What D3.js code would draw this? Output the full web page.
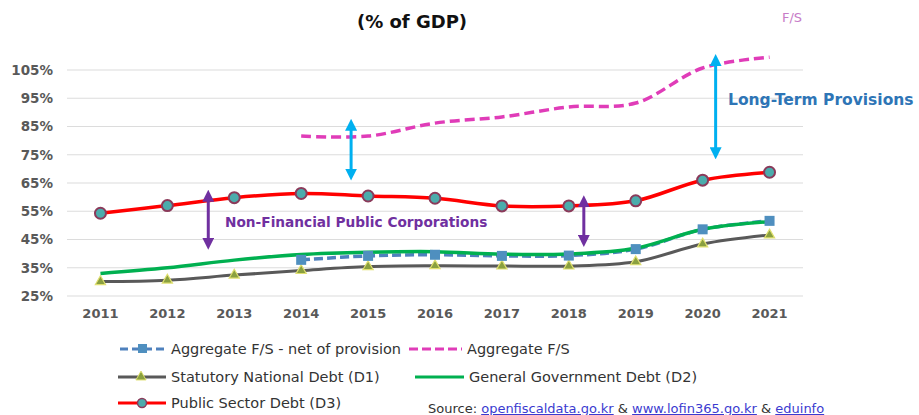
<!DOCTYPE html>
<html>
<head>
<meta charset="utf-8">
<script src="https://cdn.jsdelivr.net/npm/d3@7"></script>
<style>
  body { margin: 0; background: #fff; }
  text { font-family: "DejaVu Sans", "Noto Sans", sans-serif; }
</style>
</head>
<body>
<script>
// chart data (% of GDP)
let years = ["2011", "2012", "2013", "2014", "2015", "2016", "2017", "2018", "2019", "2020", "2021"];
let yTicks = [25, 35, 45, 55, 65, 75, 85, 95, 105];
let publicSector = [54.3, 57.0, 59.8, 61.3, 60.4, 59.6, 56.9, 56.9, 58.7, 66.0, 68.8];
let statutory = [30.1, 30.6, 32.4, 34.0, 35.4, 35.7, 35.6, 35.6, 37.1, 43.4, 46.6];
let generalGov = [33.0, 35.0, 37.7, 39.7, 40.5, 40.7, 39.8, 39.9, 41.9, 48.6, 51.3];
let aggNet = [null, null, null, 37.8, 39.2, 39.6, 39.2, 39.3, 41.6, 48.6, 51.6];
let aggFS = [null, null, null, 81.6, 81.6, 86.2, 88.4, 91.9, 93.3, 105.7, 109.5];

let svgWidth = 919, svgHeight = 415;
let svg = d3.select("body").append("svg")
  .attr("width", svgWidth)
  .attr("height", svgHeight);

// plot area
let left = 67, right = 803;
let x = d3.scaleBand().domain(years).range([left, right]);
let y = d3.scaleLinear().domain([25, 105]).range([296, 70]);
let cx = d => x(d) + x.bandwidth() / 2;

// gridlines
svg.append("g").selectAll("line")
  .data(yTicks)
  .enter().append("line")
  .attr("x1", left).attr("x2", right)
  .attr("y1", d => y(d)).attr("y2", d => y(d))
  .attr("stroke", "#dcdcdc").attr("stroke-width", 1.2);

// y axis labels
let yAxis = d3.axisLeft(y).tickValues(yTicks).tickFormat(d => d + "%").tickSize(0).tickPadding(0);
svg.append("g")
  .attr("transform", `translate(53,0)`)
  .call(yAxis)
  .call(g => g.select(".domain").remove())
  .selectAll("text")
  .attr("fill", "#595959").attr("font-size", 13.5).attr("font-weight", "bold")
  .attr("font-family", "DejaVu Sans");

// x axis labels
let xAxis = d3.axisBottom(x).tickSize(0).tickPadding(0);
svg.append("g")
  .attr("transform", `translate(0,309)`)
  .call(xAxis)
  .call(g => g.select(".domain").remove())
  .selectAll("text")
  .attr("fill", "#595959").attr("font-size", 13).attr("font-weight", "bold")
  .attr("font-family", "DejaVu Sans");

// title
svg.append("text")
  .attr("x", 412).attr("y", 28)
  .attr("text-anchor", "middle")
  .attr("font-size", 18).attr("font-weight", "bold").attr("fill", "#111")
  .text("(% of GDP)");
svg.append("text")
  .attr("x", 782).attr("y", 22)
  .attr("font-size", 13).attr("fill", "#c77cc7")
  .text("F/S");

function buildLine(values, color, width, dash) {
  let pts = years.map((yr, i) => [yr, values[i]]).filter(p => p[1] != null);
  let line = d3.line()
    .x(d => cx(d[0]))
    .y(d => y(d[1]))
    .curve(d3.curveCatmullRom.alpha(0.5));
  svg.append("path")
    .attr("d", line(pts))
    .attr("fill", "none")
    .attr("stroke", color)
    .attr("stroke-width", width)
    .attr("stroke-dasharray", dash || null);
  return pts;
}

// lines
let statPts = buildLine(statutory, "#595959", 3);
let netPts = buildLine(aggNet, "#4f81bd", 3.5, "9,4");
let genPts = buildLine(generalGov, "#00b050", 3.5);
let fsPts = buildLine(aggFS, "#e03cb8", 3.5, "10,5");
let pubPts = buildLine(publicSector, "#ff0000", 3.5);

// markers
let tri = d3.symbol().type(d3.symbolTriangle).size(45);
svg.append("g").selectAll("path")
  .data(statPts).enter().append("path")
  .attr("d", tri)
  .attr("transform", d => `translate(${cx(d[0])},${y(d[1])})`)
  .attr("fill", "#8aa040").attr("stroke", "#e0e070").attr("stroke-width", 1.2);

svg.append("g").selectAll("rect")
  .data(netPts).enter().append("rect")
  .attr("x", d => cx(d[0]) - 5).attr("y", d => y(d[1]) - 5)
  .attr("width", 10).attr("height", 10)
  .attr("fill", "#4f8fbf");

svg.append("g").selectAll("circle")
  .data(pubPts).enter().append("circle")
  .attr("cx", d => cx(d[0])).attr("cy", d => y(d[1]))
  .attr("r", 5.5)
  .attr("fill", "#4bacac").attr("stroke", "#8b3a5a").attr("stroke-width", 2);

// annotation arrows
svg.append("defs").selectAll("marker")
  .data([["cyanHead", "#00b0f0"], ["purpleHead", "#7030a0"]])
  .enter().append("marker")
  .attr("id", d => d[0])
  .attr("viewBox", "0 0 10 10")
  .attr("refX", 5).attr("refY", 5)
  .attr("markerWidth", 4).attr("markerHeight", 4)
  .attr("orient", "auto-start-reverse")
  .append("path")
  .attr("d", "M0,0L10,5L0,10Z")
  .attr("fill", d => d[1]);

function arrow(yr, dx, v1, v2, color, head) {
  svg.append("line")
    .attr("x1", cx(yr) + dx).attr("x2", cx(yr) + dx)
    .attr("y1", y(v1)).attr("y2", y(v2))
    .attr("stroke", color).attr("stroke-width", 3)
    .attr("marker-start", `url(#${head})`)
    .attr("marker-end", `url(#${head})`);
}
arrow("2015", -17, 85.6, 68.0, "#00b0f0", "cyanHead");
arrow("2020", 13, 108.5, 75.5, "#00b0f0", "cyanHead");
arrow("2013", -26, 60.5, 43.5, "#7030a0", "purpleHead");
arrow("2018", 15, 58.5, 44.5, "#7030a0", "purpleHead");

svg.append("text")
  .attr("x", 225).attr("y", 227)
  .attr("font-size", 13.7).attr("font-weight", "bold").attr("fill", "#7030a0")
  .text("Non-Financial Public Corporations");
svg.append("text")
  .attr("x", 728).attr("y", 105)
  .attr("font-size", 15.5).attr("font-weight", "bold").attr("fill", "#2e75b6")
  .text("Long-Term Provisions");

// legend
let legendNames = ["Aggregate F/S - net of provision", "Aggregate F/S", "Statutory National Debt (D1)", "General Government Debt (D2)", "Public Sector Debt (D3)"];
let legendItems = [
  { name: legendNames[0], x: 120, y: 349, len: 46, color: "#4f81bd", dash: "8,4", mark: "square" },
  { name: legendNames[1], x: 409, y: 349, len: 53, color: "#e03cb8", dash: "9,4", mark: null },
  { name: legendNames[2], x: 118, y: 377, len: 48, color: "#595959", dash: null, mark: "triangle" },
  { name: legendNames[3], x: 415, y: 377, len: 49, color: "#00b050", dash: null, mark: null },
  { name: legendNames[4], x: 118, y: 403, len: 48, color: "#ff0000", dash: null, mark: "circle" }
];
let lg = svg.append("g").selectAll("g").data(legendItems).enter().append("g");
lg.append("line")
  .attr("x1", d => d.x).attr("x2", d => d.x + d.len)
  .attr("y1", d => d.y).attr("y2", d => d.y)
  .attr("stroke", d => d.color).attr("stroke-width", 3)
  .attr("stroke-dasharray", d => d.dash);
lg.filter(d => d.mark == "square").append("rect")
  .attr("x", d => d.x + 18).attr("y", d => d.y - 5)
  .attr("width", 9).attr("height", 9).attr("fill", "#4f8fbf");
lg.filter(d => d.mark == "triangle").append("path")
  .attr("d", tri)
  .attr("transform", d => `translate(${d.x + 23},${d.y})`)
  .attr("fill", "#8aa040").attr("stroke", "#e0e070");
lg.filter(d => d.mark == "circle").append("circle")
  .attr("cx", d => d.x + 24).attr("cy", d => d.y).attr("r", 4.5)
  .attr("fill", "#4bacac").attr("stroke", "#8b3a5a").attr("stroke-width", 1.5);
lg.append("text")
  .attr("x", d => d.x + d.len + 5).attr("y", d => d.y + 5)
  .attr("font-size", 14.5).attr("fill", "#333")
  .text(d => d.name);

// source line (cut off at bottom in the original)
let src = svg.append("text")
  .attr("x", 428).attr("y", 413)
  .attr("font-size", 13).attr("fill", "#333");
src.append("tspan").text("Source: ");
src.append("tspan").attr("fill", "#3b3bd0").attr("text-decoration", "underline").text("openfiscaldata.go.kr");
src.append("tspan").text(" & ");
src.append("tspan").attr("fill", "#3b3bd0").attr("text-decoration", "underline").text("www.lofin365.go.kr");
src.append("tspan").text(" & ");
src.append("tspan").attr("fill", "#3b3bd0").attr("text-decoration", "underline").text("eduinfo");
</script>
</body>
</html>
